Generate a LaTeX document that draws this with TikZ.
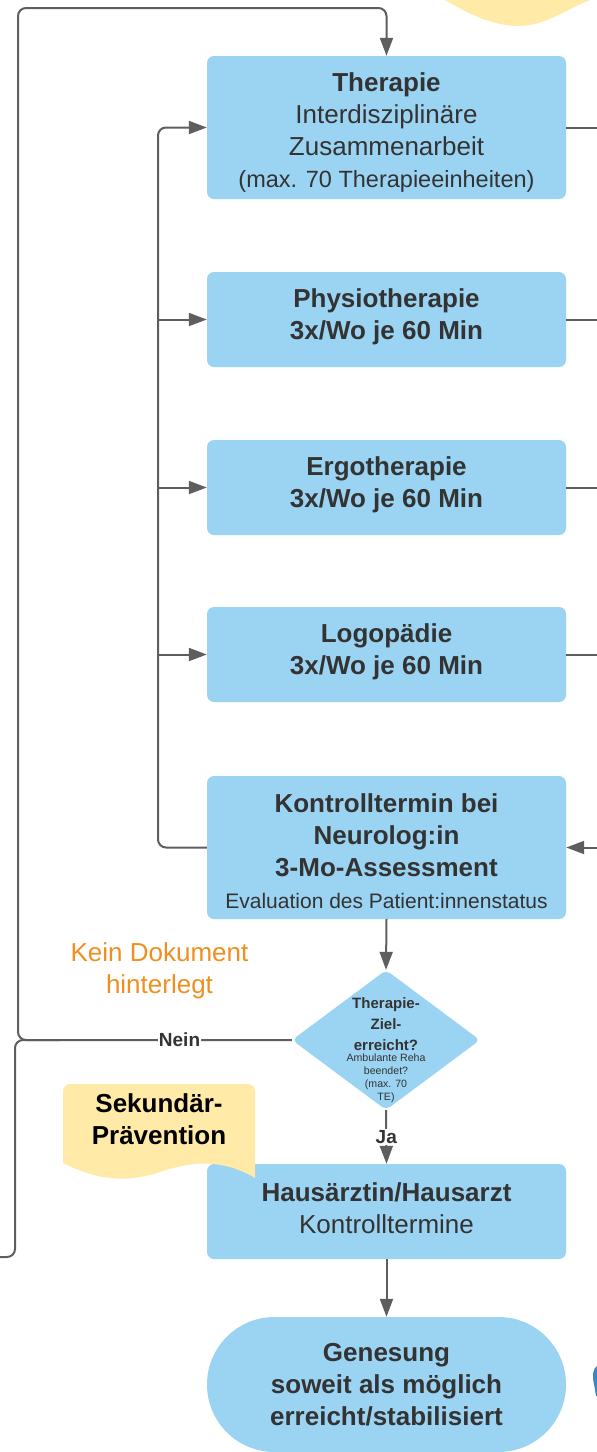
\documentclass[tikz,border=0pt]{standalone}
\usepackage{fontspec}
\setmainfont{Liberation Sans}
\usetikzlibrary{arrows.meta,shapes.geometric,shapes.misc}

\definecolor{boxblau}{RGB}{155,211,242}
\definecolor{notizgelb}{RGB}{255,234,168}
\definecolor{textgrau}{RGB}{51,51,51}
\definecolor{liniengrau}{RGB}{94,94,94}
\definecolor{hinweisorange}{RGB}{240,142,32}
\definecolor{iconblau}{RGB}{61,133,198}

\newcommand{\grossschrift}{\fontsize{26}{32}\selectfont}
\newcommand{\kleinschrift}{\fontsize{21}{30}\selectfont}

\tikzset{
  kasten/.style={fill=boxblau, rounded corners=7pt, minimum width=359pt, text width=345pt,
    align=flush center, text=textgrau, inner sep=0pt, font=\grossschrift},
  verbindung/.style={draw=liniengrau, line width=2pt},
  pfeil/.style={verbindung, -{Triangle[width=13pt,length=18pt]}},
  beschriftung/.style={fill=white, text=textgrau, inner sep=1pt, font=\fontsize{19}{22}\selectfont\bfseries},
}

\begin{document}
\begin{tikzpicture}[x=1pt,y=-1pt]
  \useasboundingbox (0,0) rectangle (597,1452);
  \clip (0,0) rectangle (597,1452);

  \fill[notizgelb] (445,-5) -- (445,0) .. controls (475,18) and (498,26) .. (518,26)
    .. controls (545,26) and (565,10) .. (590,0) -- (597,-5) -- cycle;
  \fill[iconblau] (597,1366) .. controls (593,1368) and (592,1376) .. (594,1384)
    -- (596,1396) -- (597,1396) -- cycle;

  \node[kasten, minimum height=143pt] (therapie) at (386.5,127.5)
    {\rule{0pt}{29pt}\textbf{Therapie}\\Interdisziplinäre\\Zusammenarbeit\\{\fontsize{23.5}{30}\selectfont(max. 70 Therapieeinheiten)}};
  \node[kasten, minimum height=95pt, font=\grossschrift\bfseries] (physio) at (386.5,319.5)
    {Physiotherapie\\3x/Wo je 60 Min\rule[-11.5pt]{0pt}{0pt}};
  \node[kasten, minimum height=95pt, font=\grossschrift\bfseries] (ergo) at (386.5,487.5)
    {Ergotherapie\\3x/Wo je 60 Min\rule[-11.5pt]{0pt}{0pt}};
  \node[kasten, minimum height=95pt, font=\grossschrift\bfseries] (logo) at (386.5,654.5)
    {Logopädie\\3x/Wo je 60 Min\rule[-11.5pt]{0pt}{0pt}};
  \node[kasten, minimum height=143pt] (kontroll) at (386.5,847.5)
    {\rule{0pt}{26pt}\textbf{Kontrolltermin bei\\Neurolog:in\\3-Mo-Assessment}\\{\kleinschrift Evaluation des Patient:innenstatus}};

  \node[diamond, fill=boxblau, rounded corners=5pt, minimum width=188pt, minimum height=140pt,
    inner sep=0pt] (ziel) at (386,1040) {};
  \node[align=center, text=textgrau, inner sep=0pt, font=\fontsize{15}{21}\selectfont\bfseries]
    (zielfrage) at (386,1024) {Therapie-\\Ziel-\\erreicht?};
  \node[align=center, text=textgrau, inner sep=0pt, font=\fontsize{10.6}{13}\selectfont]
    (zielinfo) at (386,1078.5) {Ambulante Reha\\beendet?\\(max. 70\\TE)};

  \node[kasten, minimum height=95pt] (hausarzt) at (386.5,1211.5)
    {\textbf{Hausärztin/Hausarzt}\\Kontrolltermine\rule[-6pt]{0pt}{0pt}};
  \node[rounded rectangle, fill=boxblau, minimum width=359pt, minimum height=135pt, text width=330pt,
    align=flush center, text=textgrau, inner sep=0pt, font=\grossschrift\bfseries] (genesung) at (386.5,1384.5)
    {Genesung\\soweit als möglich\\erreicht/stabilisiert};

  \node[align=center, text=hinweisorange, font=\grossschrift] (hinweis) at (159.5,971)
    {Kein Dokument\\hinterlegt};

  \fill[notizgelb, rounded corners=7pt] (63,1163) -- (63,1084) -- (255,1084) [sharp corners] -- (255,1178)
    .. controls (225,1160) and (195,1160) .. (160,1172)
    .. controls (130,1182) and (100,1182) .. (63,1163) -- cycle;
  \node[align=center, font=\grossschrift\bfseries] (praevention) at (159,1119)
    {Sekundär-\\Prävention};

  \coordinate (rand) at (597,0);
  \coordinate (bus) at (158,0);
  \coordinate (ausgang) at (0,1257);

  \draw[verbindung] (therapie.east) -- (therapie.east -| rand);
  \draw[verbindung] (physio.east) -- (physio.east -| rand);
  \draw[verbindung] (ergo.east) -- (ergo.east -| rand);
  \draw[verbindung] (logo.east) -- (logo.east -| rand);
  \draw[pfeil] (kontroll.east -| rand) -- (kontroll.east);

  \draw[pfeil, rounded corners=8pt] (kontroll.west) -| (bus |- therapie.west) -- (therapie.west);
  \draw[pfeil] (bus |- physio.west) -- (physio.west);
  \draw[pfeil] (bus |- ergo.west) -- (ergo.west);
  \draw[pfeil] (bus |- logo.west) -- (logo.west);

  \draw[pfeil] (kontroll.south) -- (ziel.north);
  \draw[pfeil] (ziel.south) -- node[beschriftung] (ja) {Ja} (hausarzt.north);
  \draw[pfeil] (hausarzt.south) -- (genesung.north);

  \draw[verbindung, rounded corners=8pt] (ausgang) -- (15,1257) -- (15,1040) -- (60,1040);
  \draw[pfeil, rounded corners=8pt] (ziel.west) -- node[beschriftung, pos=0.41] (nein) {Nein} (18,1040)
    -- (18,8) -- (therapie.north |- 0,8) -- (therapie.north);
\end{tikzpicture}
\end{document}
